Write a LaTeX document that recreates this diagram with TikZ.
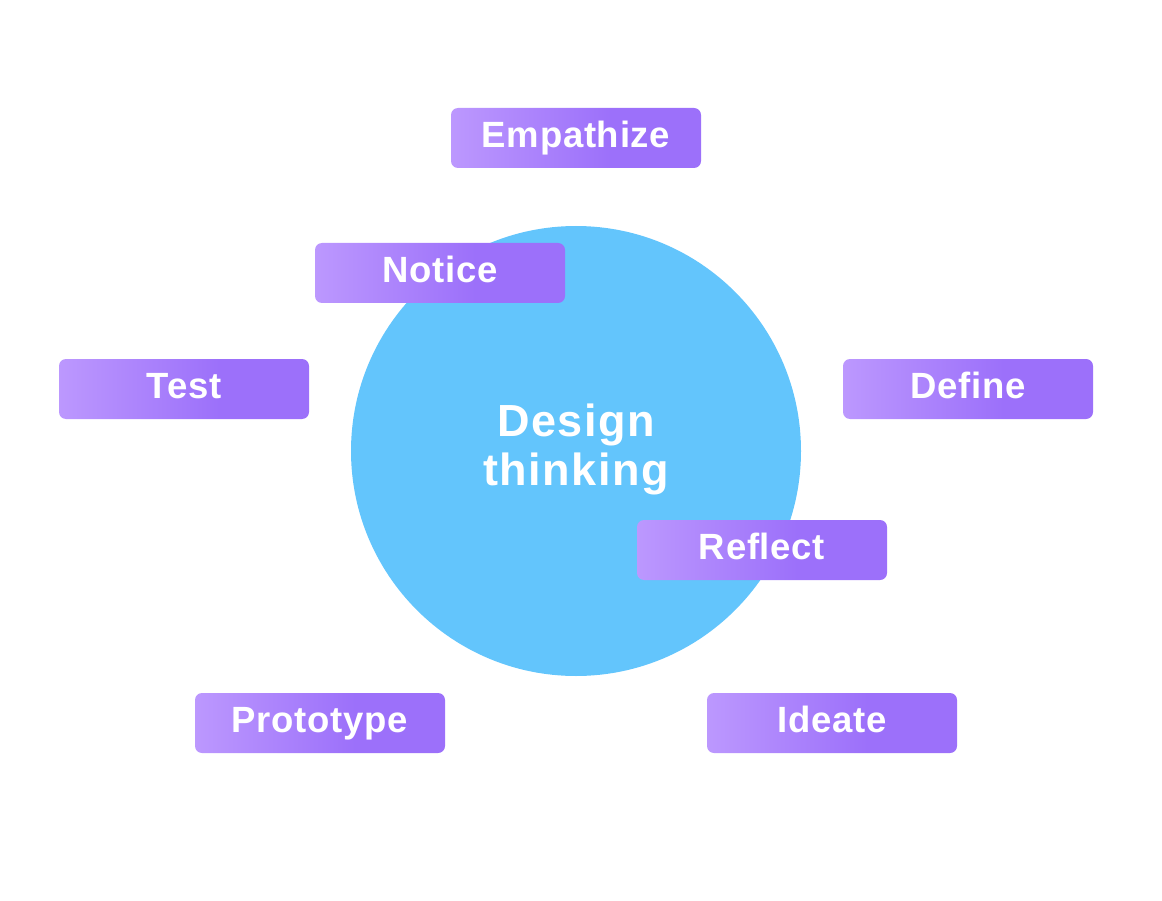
\documentclass[tikz,border=0pt]{standalone}
\usepackage{fontspec}
\setmainfont{Liberation Sans}
\usepackage{tikz}
\usetikzlibrary{calc}

\definecolor{stageleft}{RGB}{188,152,254}
\definecolor{stageright}{RGB}{156,112,250}
\definecolor{coreblue}{RGB}{99,197,252}
\pgfdeclarehorizontalshading{stageshade}{100bp}{color(0bp)=(stageleft); color(25bp)=(stageleft); color(57bp)=(stageright); color(100bp)=(stageright)}

\begin{document}
\begin{tikzpicture}[x=1pt,y=-1pt,
    stage/.style={rounded corners=7pt,shading=stageshade,inner sep=0pt,
      minimum width=250pt,text height=39.5pt,text depth=20.5pt,text=white,
      font=\fontsize{36.5}{40}\bfseries\addfontfeature{LetterSpace=2}}]
                      \useasboundingbox (0,0) rectangle (1162,901);
                      \node[circle,fill=coreblue,minimum size=450pt,inner sep=0pt] (core) at (576,451) {};
                      \node[text=white,align=center,font=\fontsize{45}{49}\selectfont\bfseries\addfontfeature{LetterSpace=3.5}]
                        (title) at (576,449) {Design\\thinking};
                      \node[stage] (empathize) at (576,138) {Empathize};
                      \node[stage] (notice) at (440,273) {Notice};
                      \node[stage] (test) at (184,389) {Test};
                      \node[stage] (define) at (968,389) {Define};
                      \node[stage] (reflect) at (762,550) {Reflect};
                      \node[stage] (prototype) at (320,723) {Prototype};
                      \node[stage] (ideate) at (832,723) {Ideate};
                  \end{tikzpicture}
\end{document}
